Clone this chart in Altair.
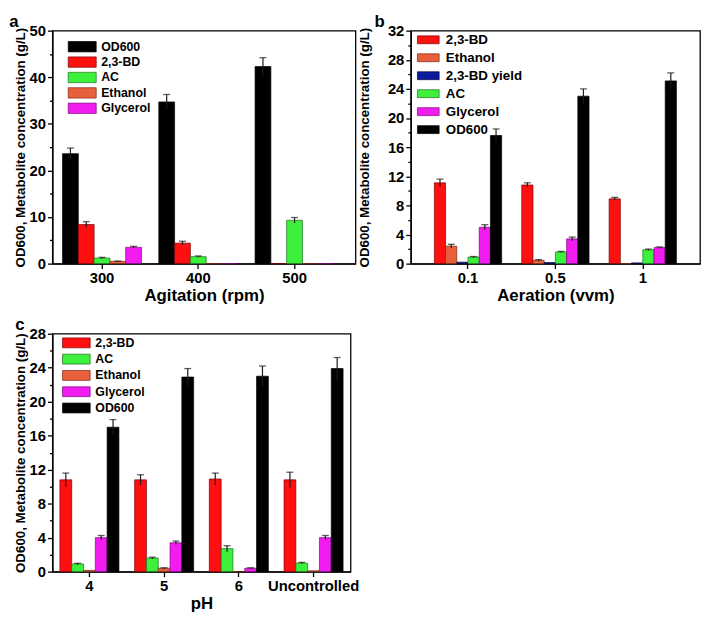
import altair as alt
import pandas as pd

FONT = "Liberation Sans"

# ---------------- Panel a : Agitation ----------------
a_groups = ["300", "400", "500"]
a_series = ["OD600", "2,3-BD", "AC", "Ethanol", "Glycerol"]
a_values = {
    "OD600":    [23.6, 34.7, 42.3],
    "2,3-BD":   [8.4, 4.4, 0.0],
    "AC":       [1.2, 1.5, 9.3],
    "Ethanol":  [0.5, 0.0, 0.0],
    "Glycerol": [3.5, 0.0, 0.0],
}
a_errors = {
    "OD600":    [1.2, 1.6, 1.9],
    "2,3-BD":   [0.6, 0.4, 0.0],
    "AC":       [0.15, 0.15, 0.6],
    "Ethanol":  [0.05, 0.0, 0.0],
    "Glycerol": [0.2, 0.0, 0.0],
}

# ---------------- Panel b : Aeration ----------------
b_groups = ["0.1", "0.5", "1"]
b_series = ["2,3-BD", "Ethanol", "2,3-BD yield", "AC", "Glycerol", "OD600"]
b_values = {
    "2,3-BD":       [11.1, 10.8, 8.9],
    "Ethanol":      [2.4, 0.45, 0.0],
    "2,3-BD yield": [0.2, 0.15, 0.1],
    "AC":           [0.9, 1.6, 1.9],
    "Glycerol":     [5.0, 3.4, 2.2],
    "OD600":        [17.6, 23.0, 25.1],
}
b_errors = {
    "2,3-BD":       [0.5, 0.3, 0.2],
    "Ethanol":      [0.25, 0.1, 0.0],
    "2,3-BD yield": [0.0, 0.0, 0.0],
    "AC":           [0.08, 0.08, 0.1],
    "Glycerol":     [0.35, 0.25, 0.1],
    "OD600":        [0.9, 1.0, 1.1],
}

# ---------------- Panel c : pH ----------------
c_groups = ["4", "5", "6", "Uncontrolled"]
c_series = ["2,3-BD", "AC", "Ethanol", "Glycerol", "OD600"]
c_values = {
    "2,3-BD":   [10.8, 10.8, 10.9, 10.8],
    "AC":       [0.9, 1.6, 2.7, 1.0],
    "Ethanol":  [0.15, 0.4, 0.0, 0.1],
    "Glycerol": [4.0, 3.4, 0.4, 4.0],
    "OD600":    [17.0, 22.9, 23.0, 23.9],
}
c_errors = {
    "2,3-BD":   [0.8, 0.6, 0.7, 0.9],
    "AC":       [0.08, 0.1, 0.35, 0.08],
    "Ethanol":  [0.0, 0.05, 0.0, 0.0],
    "Glycerol": [0.25, 0.2, 0.05, 0.25],
    "OD600":    [0.9, 1.0, 1.2, 1.3],
}

FILL = {
    "OD600": "#000000",
    "2,3-BD": "#ff1010",
    "AC": "#3cf03c",
    "Ethanol": "#e85f3c",
    "Glycerol": "#f01cf0",
    "2,3-BD yield": "#0c1a9c",
}
EDGE = {
    "OD600": "#000000",
    "2,3-BD": "#7a0000",
    "AC": "#1e6e1e",
    "Ethanol": "#7a2a14",
    "Glycerol": "#7a0a7a",
    "2,3-BD yield": "#000033",
}


def make_df(groups, series, values, errors):
    rows = []
    for s in series:
        for g, v, e in zip(groups, values[s], errors[s]):
            rows.append({"group": g, "series": s, "value": v, "err": e,
                         "lo": max(v - e, 0), "hi": v + e})
    return pd.DataFrame(rows)


def rect_path(ratio):
    return f"M-{ratio},-1H{ratio}V1H-{ratio}Z"


def panel(groups, series, values, errors, ymax, major, xtitle, letter,
          width, height, pin, pout, align, leg, ytitle_pad, letter_dx):
    df = make_df(groups, series, values, errors)
    minor = major / 2
    n = int(round(ymax / minor))
    ticks = [round(i * minor, 3) for i in range(n + 1)]
    test = f"abs(datum.value / {major} - round(datum.value / {major})) < 0.001"

    x = alt.X("group:N", sort=groups,
              scale=alt.Scale(domain=groups, paddingInner=pin, paddingOuter=pout, align=align),
              axis=alt.Axis(title=xtitle, labelAngle=0, labelFontSize=15, titleFontSize=17,
                            tickSize=5, labelPadding=2, titlePadding=2))
    xoff = alt.XOffset("series:N", sort=series, scale=alt.Scale(domain=series))
    yscale = alt.Scale(domain=[0, ymax], nice=False, zero=True)
    yaxis = alt.Axis(title="OD600, Metabolite concentration (g/L)", values=ticks,
                     labelExpr=f"{test} ? datum.label : ''",
                     tickSize={"condition": {"test": test, "value": 5}, "value": 3},
                     labelOverlap=False, labelFlush=False, labelFontSize=15,
                     titleFontSize=13.5, titlePadding=ytitle_pad, labelPadding=2)

    color = alt.Color("series:N", sort=series,
                      scale=alt.Scale(domain=series, range=[FILL[s] for s in series]),
                      legend=alt.Legend(title=None, orient="none",
                                        legendX=leg["x"], legendY=leg["y"],
                                        symbolType=rect_path(leg["ratio"]),
                                        symbolSize=leg["h"] ** 2,
                                        symbolOffset=leg["ratio"] * leg["h"] / 2 - leg["h"] / 2,
                                        labelOffset=leg["ratio"] * leg["h"] / 2 - leg["h"] / 2 + 4,
                                        labelFont=FONT, labelFontWeight="bold",
                                        labelFontSize=leg["fs"], rowPadding=leg["rp"],
                                        padding=0, symbolStrokeColor="#333333",
                                        symbolStrokeWidth=0.7, symbolOpacity=1,
                                        labelColor="black"))
    stroke = alt.Stroke("series:N", sort=series,
                        scale=alt.Scale(domain=series, range=[EDGE[s] for s in series]),
                        legend=None)

    bars = alt.Chart(df).mark_bar(strokeWidth=0.7, opacity=1).encode(
        x=x, xOffset=xoff,
        y=alt.Y("value:Q", scale=yscale, axis=yaxis),
        color=color, stroke=stroke)
    errs = alt.Chart(df).transform_filter("datum.err > 0").mark_rule(
        color="#1a1a1a", strokeWidth=1.2).encode(
        x=x, xOffset=xoff,
        y=alt.Y("lo:Q", scale=yscale, axis=yaxis), y2="hi:Q")
    caps = alt.Chart(df).transform_filter("datum.err > 0").mark_tick(
        color="#1a1a1a", thickness=1.3, size=7).encode(
        x=x, xOffset=xoff,
        y=alt.Y("hi:Q", scale=yscale, axis=yaxis))

    return alt.layer(bars, errs, caps).properties(
        width=width, height=height,
        title=alt.TitleParams(letter, anchor="start", frame="bounds", fontSize=17,
                              font=FONT, fontWeight="bold", offset=-7, dx=letter_dx,
                              color="black"))


pa = panel(a_groups, a_series, a_values, a_errors, 50, 10, "Agitation (rpm)", "a",
           307, 236, 0.18, 0.164, 0.32,
           {"x": 15, "y": 10, "ratio": 2.7, "h": 10.5, "fs": 12.5, "rp": 1.6}, 2, -4)
pb = panel(b_groups, b_series, b_values, b_errors, 32, 4, "Aeration (vvm)", "b",
           293, 236, 0.23, 0.27, 0.5,
           {"x": 4, "y": 2.5, "ratio": 2.75, "h": 8, "fs": 13.5, "rp": 3.2}, 16, 17)
pc = panel(c_groups, c_series, c_values, c_errors, 28, 4, "pH", "c",
           302, 241, 0.21, 0.1, 0.5,
           {"x": 9, "y": 3, "ratio": 2.8, "h": 10, "fs": 12.5, "rp": 2.5}, 2, 2)

top = alt.hconcat(pa, pb, spacing=0).resolve_scale(
    color="independent", stroke="independent", x="independent", y="independent",
    xOffset="independent").resolve_legend(color="independent")

chart = alt.vconcat(top, pc, spacing=11).resolve_scale(
    color="independent", stroke="independent", x="independent", y="independent",
    xOffset="independent").resolve_legend(color="independent").properties(
    padding={"left": 0, "top": 0, "right": 0, "bottom": 0}
).configure_axis(
    labelFont=FONT, titleFont=FONT, labelFontWeight="bold", titleFontWeight="bold",
    labelColor="black", titleColor="black", domainColor="black", tickColor="black",
    domainWidth=1.3, tickWidth=1.3, grid=False
).configure_view(stroke="black", strokeWidth=1.3)

chart.save("out.html", embed_options={"renderer": "svg", "actions": False})
